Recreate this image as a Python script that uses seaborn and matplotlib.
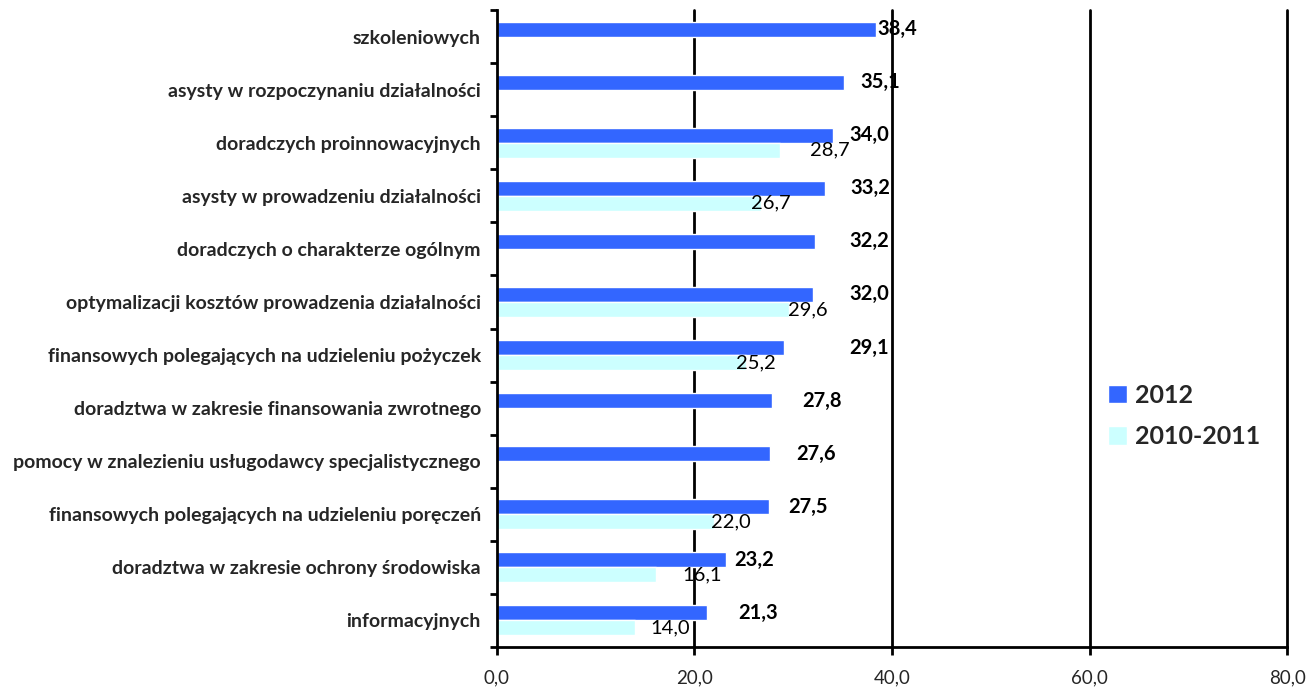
import numpy as np
import pandas as pd
import matplotlib
matplotlib.use("Agg")
import matplotlib.pyplot as plt
import seaborn as sns
from matplotlib.ticker import FixedLocator, FuncFormatter

# Categories of support services
categories = [
    "szkoleniowych",
    "asysty w rozpoczynaniu działalności",
    "doradczych proinnowacyjnych",
    "asysty w prowadzeniu działalności",
    "doradczych o charakterze ogólnym",
    "optymalizacji kosztów prowadzenia działalności",
    "finansowych polegających na udzieleniu pożyczek",
    "doradztwa w zakresie finansowania zwrotnego",
    "pomocy w znalezieniu usługodawcy specjalistycznego",
    "finansowych polegających na udzieleniu poręczeń",
    "doradztwa w zakresie ochrony środowiska",
    "informacyjnych",
]
series_names = ["2012", "2010-2011"]
values_2012 = [38.4, 35.1, 34.0, 33.2, 32.2, 32.0, 29.1, 27.8, 27.6, 27.5, 23.2, 21.3]
values_2010_2011 = [np.nan, np.nan, 28.7, 26.7, np.nan, 29.6, 25.2, np.nan, np.nan, 22.0, 16.1, 14.0]
x_ticks = [0, 20, 40, 60, 80]

# horizontal nudges (points) for the value labels, one per category
nudge_2012 = [1, 12, 12, 18, 25, 26, 47, 22, 19, 14, 6, 22]
nudge_2010 = [0, 0, 21, -7, 0, -1, -7, 0, 0, -2, 19, 11]

df = pd.DataFrame({
    "kategoria": categories * 2,
    "okres": [series_names[0]] * len(categories) + [series_names[1]] * len(categories),
    "wartosc": values_2012 + values_2010_2011,
})

sns.set_style("white")
plt.rcParams["font.family"] = ["Lato", "DejaVu Sans"]

fig = plt.figure(figsize=(13.14, 6.91), dpi=100)
ax = fig.add_axes([0.3782, 0.0637, 0.6013, 0.9218])

palette = {"2012": "#3366FF", "2010-2011": "#CCFFFF"}
sns.barplot(data=df, y="kategoria", x="wartosc", hue="okres", order=categories,
            hue_order=series_names, palette=palette, orient="h", width=0.566,
            saturation=1, ax=ax, legend=True, errorbar=None)

# value labels; each bar is matched to its category by its centre position
for container, nudges, weight in zip(ax.containers, [nudge_2012, nudge_2010], ["bold", "normal"]):
    for bar in container:
        w = bar.get_width()
        if np.isnan(w) or w == 0:
            continue
        yc = bar.get_y() + bar.get_height() / 2
        idx = int(round(yc))
        ax.annotate(f"{w:.1f}".replace(".", ","),
                    xy=(w, yc),
                    xytext=(nudges[idx], 0), textcoords="offset points",
                    ha="left", va="center", fontsize=14.5, fontweight=weight,
                    color="black")

ax.set_xlim(0, 80)
ax.set_ylim(len(categories) - 0.5, -0.5)
ax.set_xlabel("")
ax.set_ylabel("")

ax.xaxis.set_major_locator(FixedLocator(x_ticks))
ax.xaxis.set_major_formatter(FuncFormatter(lambda v, p: f"{v:.1f}".replace(".", ",")))
ax.tick_params(axis="x", which="major", direction="out", length=6, width=2,
               color="black", labelsize=13.5, pad=10, bottom=True)

# category boundaries get the tick marks, labels sit at centres
ax.yaxis.set_minor_locator(FixedLocator(np.arange(-0.5, len(categories), 1.0)))
ax.tick_params(axis="y", which="major", length=0, pad=11.5, labelsize=14)
ax.tick_params(axis="y", which="minor", direction="out", length=5, width=2,
               color="black", left=True)
for lbl in ax.get_yticklabels():
    lbl.set_fontweight("bold")

for xv in x_ticks[1:]:
    ax.axvline(xv, color="black", lw=2, zorder=0.5, clip_on=False)

for side in ["top", "right"]:
    ax.spines[side].set_visible(False)
for side in ["left", "bottom"]:
    ax.spines[side].set_color("black")
    ax.spines[side].set_linewidth(2)

handles, labels = ax.get_legend_handles_labels()
ax.get_legend().remove()
fig.legend(handles, labels, loc="center left", bbox_to_anchor=(0.826, 0.398),
           frameon=False, prop={"weight": "bold", "size": 18},
           handlelength=0.75, handleheight=0.75, handletextpad=0.35,
           labelspacing=0.75)

fig.savefig("out.png", dpi=100)
